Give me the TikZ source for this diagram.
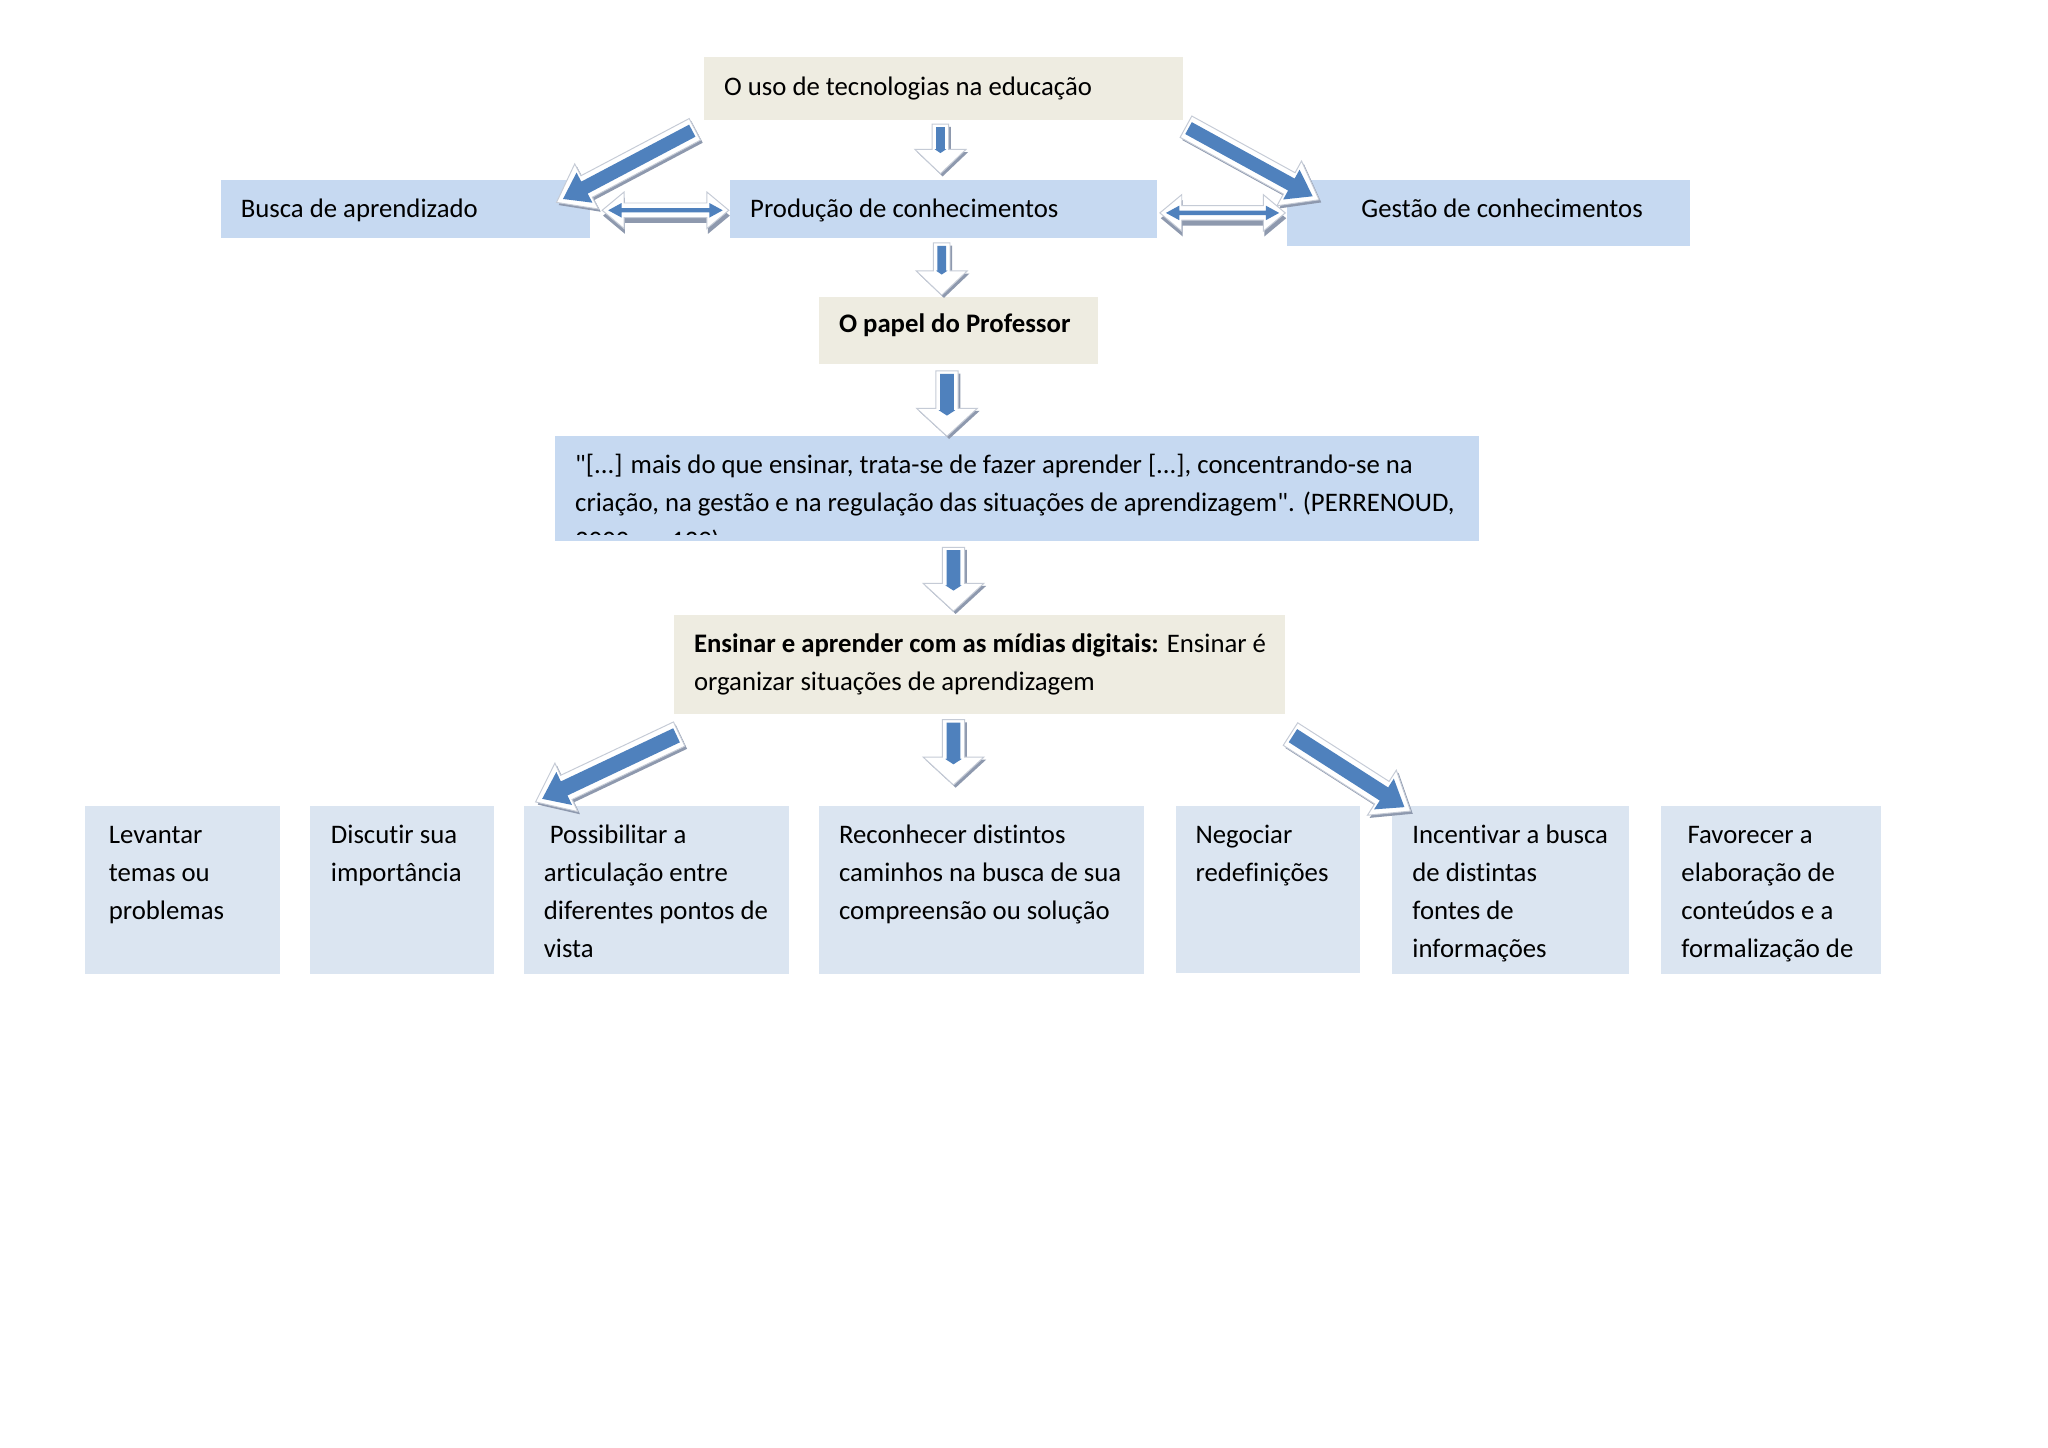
\documentclass[tikz,border=0pt]{standalone}
\usepackage{fontspec}
\setmainfont{Carlito}[Ligatures=NoCommon]
\newfontfamily\qf{Carlito}[Ligatures=NoCommon]
\usetikzlibrary{calc,fit}
\definecolor{beige}{HTML}{EEECE1}
\definecolor{lblue}{HTML}{C6D9F1}
\definecolor{pblue}{HTML}{DBE5F1}
\definecolor{ablue}{HTML}{4F81BD}
\definecolor{ashadow}{HTML}{8E99AE}
\definecolor{aedge}{HTML}{C5CBD6}

% single-headed arrow polygon along +x: start, end, shaft half, head half, head length
\newcommand\arrpoly[5]{(#1pt,-#3pt) -- ({#2pt-#5pt},-#3pt) -- ({#2pt-#5pt},-#4pt) -- (#2pt,0pt) -- ({#2pt-#5pt},#4pt) -- ({#2pt-#5pt},#3pt) -- (#1pt,#3pt) -- cycle}
% double-headed arrow polygon
\newcommand\darrpoly[5]{(#1pt,0pt) -- ({#1pt+#5pt},#4pt) -- ({#1pt+#5pt},#3pt) -- ({#2pt-#5pt},#3pt) -- ({#2pt-#5pt},#4pt) -- (#2pt,0pt) -- ({#2pt-#5pt},-#4pt) -- ({#2pt-#5pt},-#3pt) -- ({#1pt+#5pt},-#3pt) -- ({#1pt+#5pt},-#4pt) -- cycle}

\newcommand\setarr[2]{\path let \p1=($(#2)-(#1)$) in \pgfextra{\pgfmathsetmacro\baTmpA{atan2(\y1,\x1)}\pgfmathsetmacro\baTmpB{veclen(\x1,\y1)}\global\let\baAng\baTmpA\global\let\baLen\baTmpB};}

% from, to, so, ho, ko, si, hi, ki, tip inset
\newcommand\blockarr[9]{%
 \setarr{#1}{#2}%
 \pgfmathsetmacro\baLi{\baLen-#9}%
 \begin{scope}[shift={($(#1)+(0.9pt,-1.1pt)$)},rotate=\baAng]
  \fill[ashadow] \arrpoly{0}{\baLen}{#3}{#4}{#5};
 \end{scope}
 \begin{scope}[shift={(#1)},rotate=\baAng]
  \filldraw[fill=white,draw=aedge,line width=0.4pt] \arrpoly{0}{\baLen}{#3}{#4}{#5};
  \fill[ablue] \arrpoly{1.2}{\baLi}{#6}{#7}{#8};
 \end{scope}}

% from, to, so, ho, ko, si, hi, ki
\newcommand\dblarr[8]{%
 \setarr{#1}{#2}%
 \pgfmathsetmacro\baLi{\baLen-2.5}%
 \begin{scope}[shift={($(#1)+(0.4pt,-2.2pt)$)},rotate=\baAng]
  \fill[ashadow] \darrpoly{0}{\baLen}{#3}{#4}{#5};
 \end{scope}
 \begin{scope}[shift={(#1)},rotate=\baAng]
  \filldraw[fill=white,draw=aedge,line width=0.4pt] \darrpoly{0}{\baLen}{#3}{#4}{#5};
  \fill[ablue] \darrpoly{2.5}{\baLi}{#6}{#7}{#8};
 \end{scope}}

\begin{document}
\begin{tikzpicture}[x=0.537pt,y=-0.537pt,
  bbox/.style={fill=beige,inner sep=0pt,draw=none},
  lbox/.style={fill=lblue,inner sep=0pt,draw=none},
  pbox/.style={fill=pblue,inner sep=0pt,draw=none},
  txt/.style={anchor=north west,yshift=10pt,inner sep=0pt,align=left,
    font=\fontsize{11}{15.6}\selectfont},
]
\newcommand\st{\rule{0pt}{10pt}}
\newcommand\dq{{\qf"}}
\useasboundingbox (0,0) rectangle (1568,1108);
\fill[white] (0,0) rectangle (1568,1108);

% boxes
\node[bbox,fit={(539,44) (906,92)}] (b1) {};
\node[lbox,fit={(169,138) (452,182)}] (b2) {};
\node[lbox,fit={(559,138) (886,182)}] (b3) {};
\node[lbox,fit={(985,138) (1294,188)}] (b4) {};
\node[bbox,fit={(627,227) (841,279)}] (b5) {};
\node[lbox,fit={(425,334) (1132,414)}] (b6) {};
\node[bbox,fit={(516,471) (984,547)}] (b7) {};
\node[pbox,fit={(65,617) (214,746)}] (c1) {};
\node[pbox,fit={(237,617) (378,746)}] (c2) {};
\node[pbox,fit={(401,617) (604,746)}] (c3) {};
\node[pbox,fit={(627,617) (876,746)}] (c4) {};
\node[pbox,fit={(900,617) (1041,745)}] (c5) {};
\node[pbox,fit={(1066,617) (1247,746)}] (c6) {};
\node[pbox,fit={(1272,617) (1440,746)}] (c7) {};

% texts
\node[txt] (t1) at (554,72.5) {\st O uso de tecnologias na educação};
\node[txt] (t2) at (184,166.5) {\st Busca de aprendizado};
\node[txt] (t3) at (574,166.5) {\st Produção de conhecimentos};
\node[txt] (t4) at (1042,166.5) {\st Gestão de conhecimentos};
\node[txt] (t5) at (642,254.5) {\st\textbf{O papel do Professor}};
\begin{scope}
\clip (425,334) rectangle (1132,409.5);
\node[txt] (t6) at (440,362.5) {\st\dq[...] mais do que ensinar, trata-se de fazer aprender [...], concentrando-se na\\criação, na gestão e na regulação das situações de aprendizagem\dq. (PERRENOUD,\\2000, p. 139).};
\end{scope}
\node[txt] (t7) at (531,499.5) {\st\textbf{Ensinar e aprender com as mídias digitais:} Ensinar é\\organizar situações de aprendizagem};
\node[txt] (d1) at (83,645.5) {\st Levantar\\temas ou\\problemas};
\node[txt] (d2) at (253,645.5) {\st Discutir sua\\importância};
\node[txt] (d3) at (416,645.5) {\st\ Possibilitar a\\articulação entre\\diferentes pontos de\\vista};
\node[txt] (d4) at (642,645.5) {\st Reconhecer distintos\\caminhos na busca de sua\\compreensão ou solução};
\node[txt] (d5) at (915,645.5) {\st Negociar\\redefinições};
\node[txt] (d6) at (1081,645.5) {\st Incentivar a busca\\de distintas\\fontes de\\informações};
\node[txt] (d7) at (1287,645.5) {\st\ Favorecer a\\elaboração de\\conteúdos e a\\formalização de};

% arrow end points
\coordinate (a1s) at (720,95);   \coordinate (a1e) at (720,133);
\coordinate (a2s) at (532,99);   \coordinate (a2e) at (426,155);
\coordinate (a3s) at (908,97);   \coordinate (a3e) at (1010,153);
\coordinate (a4s) at (461,161);  \coordinate (a4e) at (558,161);
\coordinate (a5s) at (888,163);  \coordinate (a5e) at (984,163);
\coordinate (a6s) at (721,186);  \coordinate (a6e) at (721,226);
\coordinate (a7s) at (725,284);  \coordinate (a7e) at (725,334);
\coordinate (a8s) at (730,419);  \coordinate (a8e) at (730,468);
\coordinate (a9s) at (520,562);  \coordinate (a9e) at (410,614);
\coordinate (a10s) at (730,551); \coordinate (a10e) at (730,601);
\coordinate (a11s) at (988,562); \coordinate (a11e) at (1080,621);

% arrows
\blockarr{a1s}{a1e}{3.4}{10.5}{10}{1.8}{2.4}{1.6}{8.5}
\blockarr{a6s}{a6e}{3.4}{10.5}{10}{1.8}{2.4}{1.6}{8.5}
\blockarr{a7s}{a7e}{4.6}{12.5}{11.5}{2.8}{3.4}{2.2}{8.5}
\blockarr{a8s}{a8e}{4.6}{12.5}{11.5}{2.8}{3.4}{2.2}{8.5}
\blockarr{a10s}{a10e}{4.6}{12.5}{11.5}{2.8}{3.4}{2.2}{8.5}
\blockarr{a2s}{a2e}{5}{10.5}{14}{2.8}{7}{10}{3}
\blockarr{a3s}{a3e}{5}{10.5}{14}{2.8}{7}{10}{3}
\blockarr{a9s}{a9e}{5.5}{11}{14}{3.2}{7.5}{10}{3}
\blockarr{a11s}{a11e}{5.5}{11}{14}{3.2}{7.5}{10}{3}
\dblarr{a4s}{a4e}{3}{7.5}{9}{0.9}{3}{5.5}
\dblarr{a5s}{a5e}{3}{7.5}{9}{0.9}{3}{5.5}
\end{tikzpicture}
\end{document}
